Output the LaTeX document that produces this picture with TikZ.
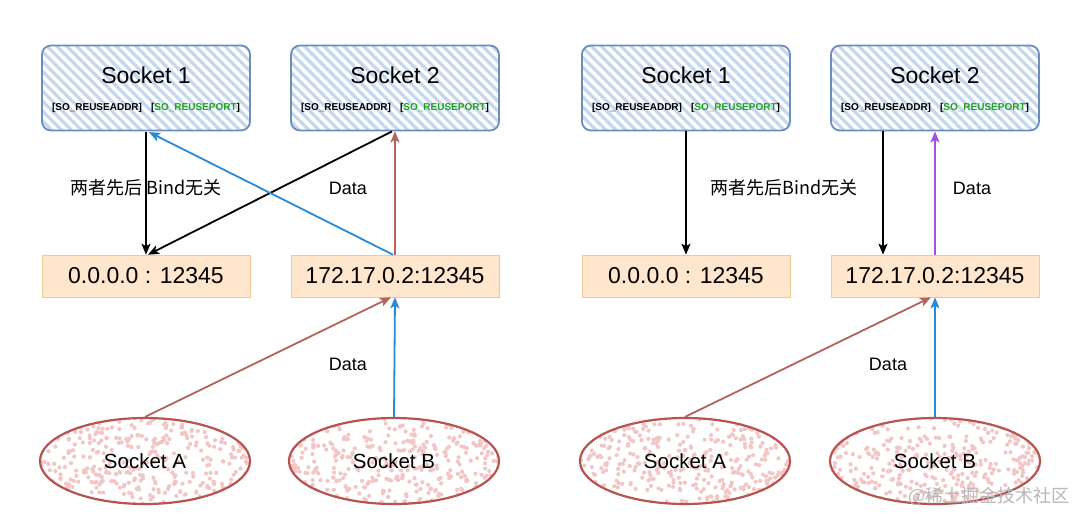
\documentclass[tikz,border=0pt]{standalone}
\usepackage{fontspec}
\setmainfont{Liberation Sans}
\newfontfamily\cjk{Noto Sans CJK SC}
\usepackage{tikz}
\usetikzlibrary{shapes.geometric, patterns.meta, arrows.meta}
\definecolor{boxline}{HTML}{6C8EBF}
\definecolor{hatch}{HTML}{C3D7EF}
\definecolor{addrfill}{HTML}{FFE6CC}
\definecolor{addrline}{HTML}{EDCB98}
\definecolor{ringline}{HTML}{B85450}
\definecolor{dotfill}{HTML}{F3C6C6}
\definecolor{bluearr}{HTML}{2B8AD6}
\definecolor{redarr}{HTML}{B5625D}
\definecolor{purparr}{HTML}{A34FE0}
\definecolor{optgreen}{HTML}{1FA21F}
\newcommand{\fs}[1]{\fontsize{#1}{#1}\selectfont}

\begin{document}
\begin{tikzpicture}[x=1pt, y=-1pt,
  sock/.style={draw=boxline, line width=1.8pt, rounded corners=9pt,
    minimum width=208pt, minimum height=85pt,
    pattern={Lines[angle=-45, distance=7pt, line width=3.2pt]}, pattern color=hatch},
  addr/.style={draw=addrline, line width=0.6pt, fill=addrfill,
    minimum width=208pt, minimum height=42pt, font=\fs{23}},
  ring/.style={ellipse, draw=ringline, line width=2.2pt,
    minimum width=210pt, minimum height=86pt, font=\fs{20.5}},
  conn/.style={line width=1.8pt, -{Stealth[length=11pt, width=9pt, inset=2.5pt]}},
  lbl/.style={font=\fs{18}}]

  \fill[white] (0, 0) rectangle (1080, 514);

  % socket boxes
  \foreach \n/\x/\t in {s1/146/1, s2/395/2, r1/686/1, r2/935/2} {
    \node[sock] (\n) at (\x, 88) {};
    \node[font=\fs{23}] (\n t) at ([yshift=13pt]\n.center) {Socket \t};
    \node[font=\fs{10}\bfseries] (\n o) at ([yshift=-20pt]\n.center)
      {[SO\_REUSEADDR]\hspace{9pt}[\textcolor{optgreen}{SO\_REUSEPORT}]};
  }

  % addresses
  \foreach \n/\x/\t in {a1/146/{0.0.0.0 : 12345}, a2/395/{172.17.0.2:12345},
                        b1/686/{0.0.0.0 : 12345}, b2/935/{172.17.0.2:12345}}
    \node[addr] (\n) at (\x, 276) {\t};

  % client sockets, speckled
  \pgfmathsetseed{11}
  \foreach \x in {145, 394, 685, 935} {
    \begin{scope}
      \clip (\x, 461) ellipse (104 and 42);
      \foreach \k in {1,...,380}
        \fill[dotfill] ({\x+105*rand}, {461+43*rand}) circle (2.1);
    \end{scope}
  }
  \foreach \n/\x/\t in {eA/145/A, eB/394/B, fA/685/A, fB/935/B}
    \node[ring] (\n) at (\x, 461) {Socket \t};

  % left
  \draw[conn] (s1.south) -- (a1.north);
  \draw[conn] ([xshift=-3pt]s2.south) -- ([xshift=2pt]a1.north);
  \draw[conn, bluearr] ([xshift=-2pt]a2.north) -- ([xshift=3pt]s1.south);
  \draw[conn, redarr] (a2.north) -- (s2.south);
  \draw[conn, redarr] (eA.north) -- ([xshift=-4pt]a2.south);
  \draw[conn, bluearr] (eB.north) -- (a2.south);

  \node[lbl, font=\cjk\fs{18}] (bind1) at (146, 188) {两者先后 Bind无关};
  \node[lbl] (up1) at (348, 188) {Data};
  \node[lbl] (in1) at (348, 364) {Data};

  % right
  \draw[conn] (r1.south) -- (b1.north);
  \draw[conn] ([xshift=-52pt]r2.south) -- ([xshift=-52pt]b2.north);
  \draw[conn, purparr] (b2.north) -- (r2.south);
  \draw[conn, redarr] (fA.north) -- ([xshift=-4pt]b2.south);
  \draw[conn, bluearr] (fB.north) -- (b2.south);

  \node[lbl, font=\cjk\fs{18}] (bind2) at (784, 188) {两者先后Bind无关};
  \node[lbl] (up2) at (972, 188) {Data};
  \node[lbl] (in2) at (888, 364) {Data};

  \node[text=black!28, font=\cjk\fs{18}] (mark) at (989, 496) {@稀土掘金技术社区};

\end{tikzpicture}
\end{document}
